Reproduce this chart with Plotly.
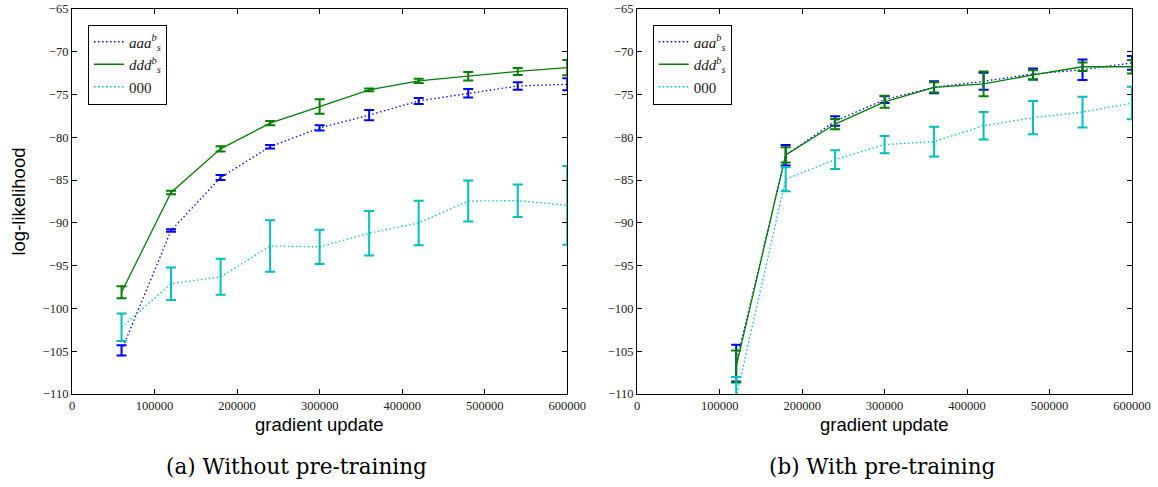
import plotly.graph_objects as go

# ---------------- data ----------------
steps_a = [60000, 120000, 180000, 240000, 300000, 360000, 420000, 480000, 540000, 600000]
aaa_a = [-104.9, -90.9, -84.7, -81.1, -78.9, -77.4, -75.75, -74.85, -74.0, -73.8]
aaa_a_err = [0.6, 0.15, 0.3, 0.2, 0.3, 0.6, 0.35, 0.5, 0.45, 0.7]
ddd_a = [-98.1, -86.45, -81.35, -78.35, -76.4, -74.45, -73.4, -72.85, -72.3, -71.85]
ddd_a_err = [0.7, 0.2, 0.3, 0.25, 0.85, 0.15, 0.25, 0.5, 0.4, 0.9]
zzz_a = [-102.2, -97.1, -96.3, -92.7, -92.8, -91.2, -90.0, -87.45, -87.4, -87.95]
zzz_a_err = [1.6, 1.9, 2.1, 3.0, 2.0, 2.6, 2.6, 2.4, 1.9, 4.6]

steps_b = [120000, 180000, 240000, 300000, 360000, 420000, 480000, 540000, 600000]
aaa_b = [-106.4, -82.1, -78.1, -75.6, -74.15, -73.45, -72.6, -72.1, -71.3]
aaa_b_err = [2.15, 1.2, 0.55, 0.4, 0.7, 1.0, 0.65, 1.2, 0.8]
ddd_b = [-106.8, -82.05, -78.45, -75.85, -74.15, -73.75, -72.7, -71.75, -71.75]
ddd_b_err = [1.87, 0.9, 0.6, 0.7, 0.6, 1.45, 0.55, 0.5, 0.8]
zzz_b = [-110.4, -84.9, -82.6, -80.85, -80.5, -78.65, -77.7, -77.05, -76.0]
zzz_b_err = [2.4, 1.4, 1.1, 1.0, 1.75, 1.6, 1.95, 1.8, 1.9]

x_ticks = [0, 100000, 200000, 300000, 400000, 500000, 600000]
y_ticks = [-110, -105, -100, -95, -90, -85, -80, -75, -70, -65]

series_names = ["<i>aaa</i><sup><i>b</i></sup><sub><i>s</i></sub>",
                "<i>ddd</i><sup><i>b</i></sup><sub><i>s</i></sub>",
                "000"]
captions = ["(a) Without pre-training", "(b) With pre-training"]
x_title = "gradient update"
y_title = "log-likelihood"

# ---------------- styles ----------------
BLUE = "#0000ff"
GREEN = "#008000"
CYAN = "#00bfbf"
colors = [BLUE, GREEN, CYAN]
dashes = ["1.5px,2.5px", "solid", "1.5px,2.5px"]

fig = go.Figure()

panels = [
    (steps_a, [(aaa_a, aaa_a_err), (ddd_a, ddd_a_err), (zzz_a, zzz_a_err)], "x", "y", "legend"),
    (steps_b, [(aaa_b, aaa_b_err), (ddd_b, ddd_b_err), (zzz_b, zzz_b_err)], "x2", "y2", "legend2"),
]
for steps, series, xa, ya, lg in panels:
    for (vals, errs), name, col, dash in zip(series, series_names, colors, dashes):
        fig.add_trace(go.Scatter(
            x=steps, y=vals, mode="lines", name=name,
            xaxis=xa, yaxis=ya, legend=lg,
            line=dict(color=col, width=1.3, dash=dash),
            error_y=dict(type="data", array=errs, visible=True,
                         color=col, thickness=2, width=5),
        ))

W, H = 1158, 487
L, R, T, B = 72, 25.5, 9, 93
pw = W - L - R
ph = H - T - B

def px_x(p):
    return (p - L) / pw

def px_y(p):
    return 1 - (p - T) / ph

tickfont = dict(family="Liberation Serif", size=12.5, color="#222")
ytext = [("\u2212" + str(abs(v))) if v < 0 else str(v) for v in y_ticks]
xtext = [str(v) for v in x_ticks]

axis_common = dict(showline=True, linecolor="black", linewidth=1.2, mirror="allticks",
                   ticks="inside", ticklen=5, tickwidth=1, tickcolor="black",
                   showgrid=False, zeroline=False, tickfont=tickfont, automargin=False)

fig.update_layout(
    width=W, height=H,
    margin=dict(l=L, r=R, t=T, b=B, pad=0, autoexpand=False),
    paper_bgcolor="white", plot_bgcolor="white",
    xaxis=dict(domain=[0, px_x(567.5)], range=[0, 600000], anchor="y",
               tickvals=x_ticks, ticktext=xtext, **axis_common),
    yaxis=dict(range=[-110, -65], anchor="x", tickvals=y_ticks, ticktext=ytext, **axis_common),
    xaxis2=dict(domain=[px_x(637.5), 1], range=[0, 600000], anchor="y2",
                tickvals=x_ticks, ticktext=xtext, **axis_common),
    yaxis2=dict(range=[-110, -65], anchor="x2", tickvals=y_ticks, ticktext=ytext, **axis_common),
    legend=dict(x=px_x(88), y=px_y(24.5), xanchor="left", yanchor="top",
                bordercolor="black", borderwidth=1, bgcolor="white",
                font=dict(family="Liberation Serif", size=15, color="#222"),
                tracegroupgap=0),
    legend2=dict(x=px_x(653), y=px_y(24.5), xanchor="left", yanchor="top",
                 bordercolor="black", borderwidth=1, bgcolor="white",
                 font=dict(family="Liberation Serif", size=15, color="#222"),
                 tracegroupgap=0),
    showlegend=True,
)

sans = dict(family="Liberation Sans", size=18.5, color="black")
serif = dict(family="DejaVu Serif", size=21.5, color="black")
annotations = [
    dict(text=x_title, x=px_x(320), y=px_y(424), xref="paper", yref="paper",
         showarrow=False, xanchor="center", yanchor="middle", font=sans),
    dict(text=x_title, x=px_x(885), y=px_y(424), xref="paper", yref="paper",
         showarrow=False, xanchor="center", yanchor="middle", font=sans),
    dict(text=y_title, x=px_x(18), y=px_y(201.5), xref="paper", yref="paper",
         showarrow=False, xanchor="center", yanchor="middle", textangle=-90, font=sans),
    dict(text=captions[0], x=px_x(296.5), y=px_y(466), xref="paper", yref="paper",
         showarrow=False, xanchor="center", yanchor="middle", font=serif),
    dict(text=captions[1], x=px_x(883), y=px_y(466), xref="paper", yref="paper",
         showarrow=False, xanchor="center", yanchor="middle", font=serif),
]
fig.update_layout(annotations=annotations)

fig.write_html("out.html", config={"displayModeBar": False},
               post_script="document.body.style.margin='0';document.body.style.overflow='hidden';")
